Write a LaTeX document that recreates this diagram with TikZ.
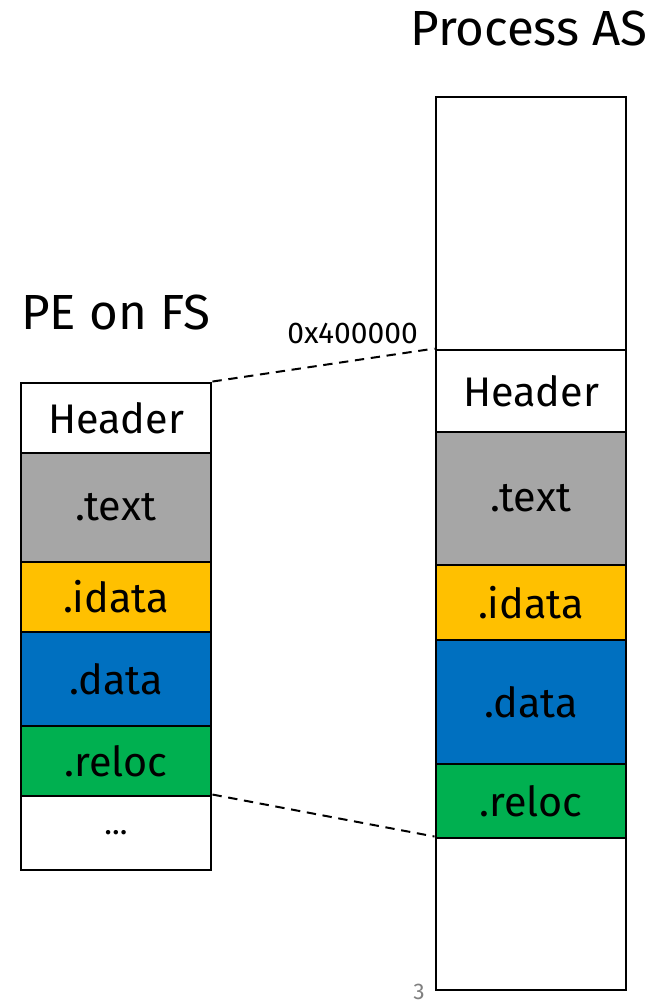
\documentclass[tikz,border=0pt]{standalone}
\usepackage{fontspec}
\setmainfont{Fira Sans}
\definecolor{segGray}{HTML}{A6A6A6}
\definecolor{segGold}{HTML}{FFC000}
\definecolor{segBlue}{HTML}{0070C0}
\definecolor{segGreen}{HTML}{00B050}
\definecolor{pageGray}{HTML}{808080}
\begin{document}
\begin{tikzpicture}[x=0.75pt,y=-0.75pt,
  seg/.style={draw=black, line width=2.2pt, inner sep=0pt, minimum width=142.5pt, font=\fontsize{31}{36}\selectfont},
  title/.style={font=\fontsize{37}{44}\selectfont, inner sep=0pt},
  link/.style={dashed, line width=1.5pt, dash pattern=on 7pt off 5pt}]
\useasboundingbox (0,0) rectangle (657,1004);
% left column
\node[seg, minimum height=52.5pt] (lhead) at (116,418) {Header};
\node[seg, fill=segGray, minimum height=81.75pt] (ltext) at (116,507.5) {.text};
\node[seg, fill=segGold, minimum height=52.5pt] (lidata) at (116,597) {.idata};
\node[seg, fill=segBlue, minimum height=70.5pt] (ldata) at (116,679) {.data};
\node[seg, fill=segGreen, minimum height=52.5pt] (lreloc) at (116,761) {.reloc};
\node[seg, minimum height=55.5pt, font=\fontsize{24}{28}\selectfont] (ldots) at (116,833) {...};
% right column
\node[seg, minimum height=189.75pt] (rtop) at (531,223.5) {};
\node[seg, minimum height=61.5pt] (rhead) at (531,391) {Header};
\node[seg, fill=segGray, minimum height=99.75pt] (rtext) at (531,498.5) {.text};
\node[seg, fill=segGold, minimum height=56.25pt] (ridata) at (531,602.5) {.idata};
\node[seg, fill=segBlue, minimum height=93pt] (rdata) at (531,702) {.data};
\node[seg, fill=segGreen, minimum height=55.5pt] (rreloc) at (531,801) {.reloc};
\node[seg, minimum height=114pt] (rbot) at (531,914) {};
% titles
\node[title, anchor=base west] (ltitle) at (21,329) {PE on FS};
\node[title, anchor=base east] (rtitle) at (648,45) {Process AS};
\node[font=\fontsize{22.5}{27}\selectfont, inner sep=0pt, anchor=base east] (addr) at (418,343) {0x400000};
\node[font=\fontsize{17}{20}\selectfont, text=pageGray, inner sep=0pt, anchor=base] (pnum) at (419,999) {3};
% connectors
\draw[link] (lhead.north east) -- (rhead.north west);
\draw[link] (ldots.north east) -- (rbot.north west);
\end{tikzpicture}
\end{document}
